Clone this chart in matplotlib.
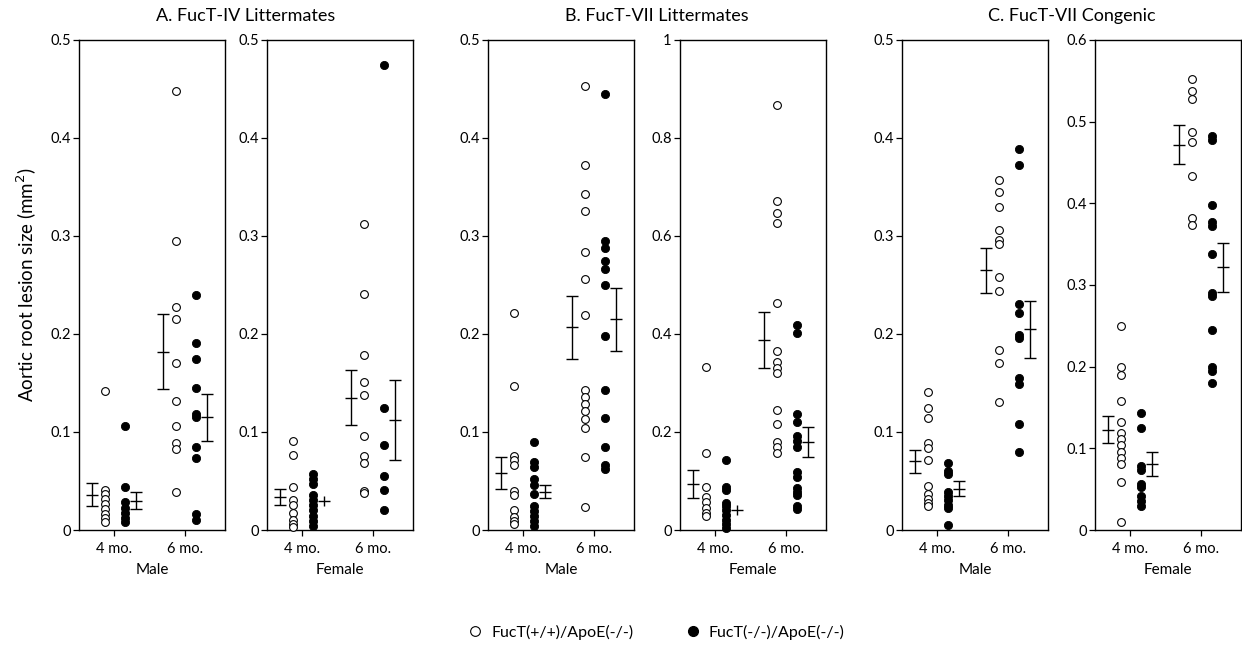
import matplotlib
matplotlib.use("Agg")
import matplotlib.pyplot as plt
from matplotlib.lines import Line2D
import numpy as np

plt.rcParams['font.family'] = ['Lato', 'DejaVu Sans']

# ---------------- data ----------------
ages = ["4 mo.", "6 mo."]
sexes = ["Male", "Female", "Male", "Female", "Male", "Female"]
titles = ["A. FucT-IV Littermates", "B. FucT-VII Littermates", "C. FucT-VII Congenic"]
legend_labels = ["FucT(+/+)/ApoE(-/-)", "FucT(-/-)/ApoE(-/-)"]

# A. FucT-IV, male
a_m_wt4 = [0.142, 0.041, 0.037, 0.032, 0.027, 0.021, 0.016, 0.012, 0.008]
a_m_ko4 = [0.106, 0.044, 0.029, 0.022, 0.017, 0.012, 0.008]
a_m_wt6 = [0.448, 0.295, 0.228, 0.215, 0.170, 0.132, 0.106, 0.089, 0.083, 0.039]
a_m_ko6 = [0.240, 0.191, 0.175, 0.145, 0.118, 0.115, 0.085, 0.073, 0.016, 0.010]
a_m_mean = [0.036, 0.030, 0.182, 0.115]
a_m_sem = [0.012, 0.009, 0.038, 0.024]

# A. FucT-IV, female
a_f_wt4 = [0.091, 0.077, 0.044, 0.031, 0.026, 0.017, 0.010, 0.006, 0.003]
a_f_ko4 = [0.057, 0.052, 0.047, 0.036, 0.031, 0.026, 0.020, 0.014, 0.009, 0.004]
a_f_wt6 = [0.312, 0.241, 0.179, 0.151, 0.138, 0.096, 0.076, 0.068, 0.040, 0.038]
a_f_ko6 = [0.474, 0.124, 0.087, 0.055, 0.041, 0.020]
a_f_mean = [0.034, 0.030, 0.135, 0.112]
a_f_sem = [0.008, 0.005, 0.028, 0.041]

# B. FucT-VII littermates, male
b_m_wt4 = [0.221, 0.147, 0.076, 0.071, 0.066, 0.040, 0.036, 0.020, 0.013, 0.009, 0.006]
b_m_ko4 = [0.090, 0.069, 0.064, 0.052, 0.046, 0.037, 0.024, 0.019, 0.014, 0.009, 0.004]
b_m_wt6 = [0.453, 0.372, 0.343, 0.326, 0.284, 0.256, 0.219, 0.143, 0.136, 0.129,
           0.121, 0.113, 0.104, 0.074, 0.023]
b_m_ko6 = [0.445, 0.295, 0.288, 0.274, 0.266, 0.250, 0.198, 0.143, 0.114, 0.085, 0.066, 0.062]
b_m_mean = [0.058, 0.039, 0.207, 0.215]
b_m_sem = [0.016, 0.0065, 0.032, 0.032]

# B. FucT-VII littermates, female
b_f_wt4 = [0.333, 0.157, 0.088, 0.068, 0.057, 0.045, 0.034, 0.028]
b_f_ko4 = [0.143, 0.087, 0.081, 0.056, 0.050, 0.041, 0.031, 0.021, 0.013, 0.005]
b_f_wt6 = [0.868, 0.672, 0.646, 0.626, 0.463, 0.366, 0.343, 0.331, 0.320, 0.245,
           0.216, 0.180, 0.169, 0.158]
b_f_ko6 = [0.418, 0.402, 0.236, 0.221, 0.192, 0.182, 0.170, 0.119, 0.109, 0.085,
           0.077, 0.071, 0.050, 0.043]
b_f_mean = [0.094, 0.041, 0.387, 0.180]
b_f_sem = [0.029, 0.010, 0.057, 0.031]

# C. FucT-VII congenic, male
c_m_wt4 = [0.141, 0.125, 0.114, 0.089, 0.084, 0.071, 0.045, 0.037, 0.032, 0.028, 0.024]
c_m_ko4 = [0.068, 0.060, 0.057, 0.039, 0.035, 0.031, 0.026, 0.022, 0.005]
c_m_wt6 = [0.357, 0.345, 0.330, 0.306, 0.296, 0.292, 0.258, 0.244, 0.184, 0.170, 0.131]
c_m_ko6 = [0.389, 0.372, 0.231, 0.221, 0.199, 0.196, 0.155, 0.149, 0.108, 0.080]
c_m_mean = [0.070, 0.042, 0.265, 0.205]
c_m_sem = [0.012, 0.0075, 0.023, 0.029]

# C. FucT-VII congenic, female
c_f_wt4 = [0.250, 0.199, 0.190, 0.158, 0.132, 0.119, 0.111, 0.104, 0.096, 0.088,
           0.081, 0.059, 0.010]
c_f_ko4 = [0.143, 0.125, 0.078, 0.073, 0.056, 0.053, 0.042, 0.035, 0.030]
c_f_wt6 = [0.552, 0.537, 0.528, 0.487, 0.475, 0.434, 0.382, 0.373]
c_f_ko6 = [0.483, 0.478, 0.398, 0.377, 0.372, 0.338, 0.290, 0.287, 0.245, 0.200, 0.195, 0.180]
c_f_mean = [0.123, 0.081, 0.472, 0.322]
c_f_sem = [0.016, 0.015, 0.024, 0.030]

y_max = [0.5, 0.5, 0.5, 1.0, 0.5, 0.6]
y_step = [0.1, 0.1, 0.1, 0.2, 0.1, 0.1]

panels = [
    (a_m_wt4, a_m_ko4, a_m_wt6, a_m_ko6, a_m_mean, a_m_sem),
    (a_f_wt4, a_f_ko4, a_f_wt6, a_f_ko6, a_f_mean, a_f_sem),
    (b_m_wt4, b_m_ko4, b_m_wt6, b_m_ko6, b_m_mean, b_m_sem),
    (b_f_wt4, b_f_ko4, b_f_wt6, b_f_ko6, b_f_mean, b_f_sem),
    (c_m_wt4, c_m_ko4, c_m_wt6, c_m_ko6, c_m_mean, c_m_sem),
    (c_f_wt4, c_f_ko4, c_f_wt6, c_f_ko6, c_f_mean, c_f_sem),
]

# ---------------- layout ----------------
W, H = 1242, 647
fig = plt.figure(figsize=(W / 100, H / 100), dpi=100)

ax_left_px = [79, 267, 488, 680, 902, 1095]
ax_w_px = 146
ax_top_px, ax_bot_px = 40, 530

# offsets (in category units) of: wt error bar, wt points, ko points, ko error bar
off_wt_err, off_wt_pts, off_ko_pts, off_ko_err = -0.31, -0.13, 0.15, 0.31

def fmt(v):
    if abs(v) < 1e-9:
        return "0"
    if abs(v - round(v)) < 1e-9:
        return str(int(round(v)))
    return f"{v:.1f}"

axes = []
for i, (wt4, ko4, wt6, ko6, means, sems) in enumerate(panels):
    ax = fig.add_axes([ax_left_px[i] / W, 1 - ax_bot_px / H,
                       ax_w_px / W, (ax_bot_px - ax_top_px) / H])
    axes.append(ax)
    groups = [(1, wt4, ko4, means[0], sems[0], means[1], sems[1]),
              (2, wt6, ko6, means[2], sems[2], means[3], sems[3])]
    for xc, wt, ko, mw, sw, mk, sk in groups:
        ax.plot(np.full(len(wt), xc + off_wt_pts), wt, 'o', ms=5.6,
                mfc='white', mec='black', mew=0.8, clip_on=False, zorder=3)
        ax.plot(np.full(len(ko), xc + off_ko_pts), ko, 'o', ms=5.9,
                mfc='black', mec='black', mew=0.6, clip_on=False, zorder=3)
        for xe, m, s in [(xc + off_wt_err, mw, sw), (xc + off_ko_err, mk, sk)]:
            cap = 0 if s / y_max[i] < 0.0125 else 4
            ax.errorbar([xe], [m], yerr=[s], fmt='none', ecolor='black',
                        elinewidth=1.0, capsize=cap, capthick=1.0, zorder=2)
            ax.plot([xe], [m], marker='_', ms=8.5, mew=1.0, color='black', zorder=2)
    ax.set_xlim(0.5, 2.56)
    ax.set_ylim(0, y_max[i])
    ticks = np.arange(0, y_max[i] + 1e-9, y_step[i])
    ax.set_yticks(ticks)
    ax.set_yticklabels([fmt(t) for t in ticks])
    ax.set_xticks([1, 2])
    ax.set_xticklabels(ages)
    ax.tick_params(axis='both', direction='out', length=4.5, width=0.9,
                   labelsize=10.5, colors='black')
    ax.tick_params(axis='x', pad=4)
    ax.tick_params(axis='y', pad=1.5)
    for sp in ax.spines.values():
        sp.set_linewidth(1.0)
    ax.set_xlabel(sexes[i], fontsize=11, labelpad=5)

axes[0].set_ylabel("Aortic root lesion size (mm$^2$)", fontsize=13.5, labelpad=8)

# group titles
for g, t in enumerate(titles):
    l = ax_left_px[2 * g]
    r = ax_left_px[2 * g + 1] + ax_w_px
    fig.text((l + r) / 2 / W, 1 - 16 / H, t, ha='center', va='center', fontsize=13)

# legend
handles = [Line2D([], [], ls='none', marker='o', ms=7, mfc='white', mec='black', mew=0.8),
           Line2D([], [], ls='none', marker='o', ms=7, mfc='black', mec='black')]
fig.legend(handles, legend_labels, loc='center', ncol=2, frameon=False,
           bbox_to_anchor=(656 / W, 1 - 632 / H), fontsize=11.5,
           handletextpad=0.5, columnspacing=3.2, handlelength=1.0)

fig.savefig("out.png", dpi=100)
